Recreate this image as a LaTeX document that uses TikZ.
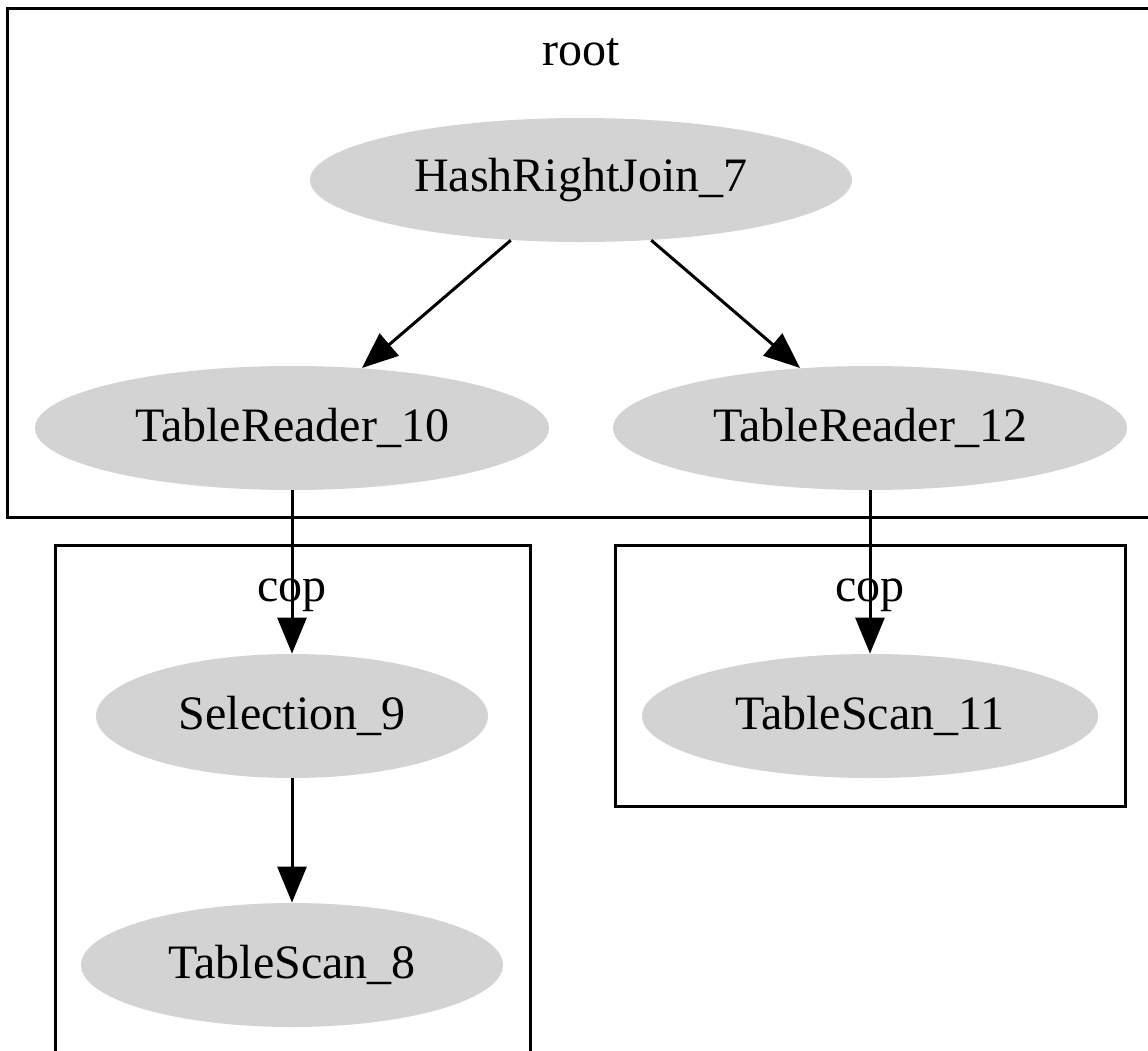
\documentclass[tikz,border=0pt]{standalone}
\usepackage{fontspec}
\setmainfont{Liberation Serif}
\usetikzlibrary{shapes.geometric,arrows.meta}
\definecolor{nodegray}{HTML}{D3D3D3}

\begin{document}
\begin{tikzpicture}[x=0.5pt, y=-0.5pt,
	every node/.style={font=\fontsize{24}{28}\selectfont},
	opnode/.style={ellipse, fill=nodegray, inner sep=0pt, minimum height=62pt},
	clusterbox/.style={line width=1.5pt},
	flow/.style={line width=1.5pt, -{Triangle[length=18pt, width=14.5pt]}}]
	\useasboundingbox (0,0) rectangle (1148,1051);
	\clip (0,0) rectangle (1148,1051);
	% clusters
	\draw[clusterbox] (7,8) rectangle (1170,517);
	\draw[clusterbox] (55,545) rectangle (530,1080);
	\draw[clusterbox] (615,545) rectangle (1125,806);
	\node[anchor=base] (rootlbl) at (581,65) {root};
	\node[anchor=base] (coplbl1) at (292,601) {cop};
	\node[anchor=base] (coplbl2) at (870,601) {cop};
	% operators
	\node[opnode, minimum width=271pt] (hrj7) at (581,180) {HashRightJoin\_7};
	\node[opnode, minimum width=257pt] (tr10) at (292,428) {TableReader\_10};
	\node[opnode, minimum width=257pt] (tr12) at (870,428) {TableReader\_12};
	\node[opnode, minimum width=196pt] (sel9) at (292,716) {Selection\_9};
	\node[opnode, minimum width=211pt] (ts8) at (292,965) {TableScan\_8};
	\node[opnode, minimum width=228pt] (ts11) at (870,716) {TableScan\_11};
	% edges
	\draw[flow] (hrj7) -- (tr10);
	\draw[flow] (hrj7) -- (tr12);
	\draw[flow] (tr10) -- (sel9);
	\draw[flow] (tr12) -- (ts11);
	\draw[flow] (sel9) -- (ts8);
\end{tikzpicture}
\end{document}
